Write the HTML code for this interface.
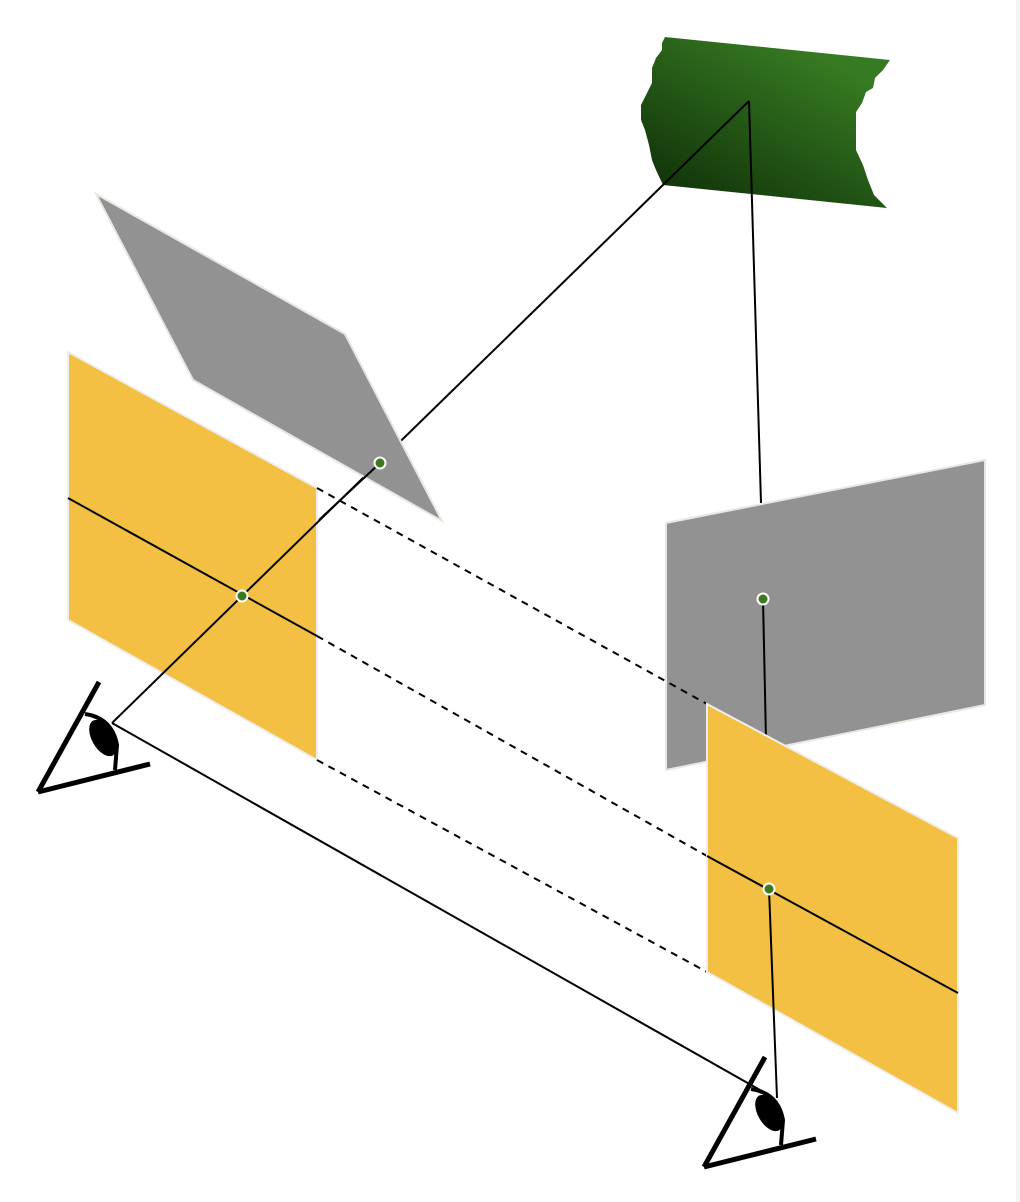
<!DOCTYPE html>
<html><head><style>body{margin:0;background:#fff}svg{display:block}</style></head><body>
<svg width="1020" height="1202" viewBox="0 0 1020 1202" xmlns="http://www.w3.org/2000/svg">
<defs>
<linearGradient id="g" x1="0" y1="1" x2="0.7" y2="0.1">
<stop offset="0" stop-color="#0c2a06"/><stop offset="1" stop-color="#367a22"/>
</linearGradient>
<g id="eye">
<line x1="99" y1="682" x2="38" y2="792" stroke="#000" stroke-width="5"/>
<line x1="38" y1="792" x2="150" y2="764" stroke="#000" stroke-width="5"/>
<ellipse cx="103" cy="738" rx="11" ry="20" transform="rotate(-30 103 738)" fill="#000"/>
<path d="M85,714 Q112,718 117,745 L115,770" fill="none" stroke="#000" stroke-width="4"/>
</g>
</defs>
<rect x="1016" y="0" width="4" height="1202" fill="#f4f4f4"/>
<polygon points="665,37 890,60 883,70 875,78 873,88 866,92 862,103 856,112 856,150 863,165 868,180 874,195 887,208 663,185 656,170 652,160 649,145 645,130 641,120 641,105 646,95 652,83 652,68 656,58 662,50 662,43" fill="url(#g)"/>
<polygon points="68,352 317,488 317,760 68,620" fill="#f3c043" stroke="#eee" stroke-width="2"/>
<line x1="112" y1="723" x2="749" y2="101" stroke="#000" stroke-width="2"/>
<line x1="749" y1="101" x2="761" y2="503" stroke="#000" stroke-width="2"/>
<polygon points="96,194 345,334 442,521 193,380" fill="#929292" stroke="#e8e8e0" stroke-width="2"/>
<polygon points="666,523 985,460 985,705 666,770" fill="#929292" stroke="#e8e8e0" stroke-width="2"/>
<line x1="319" y1="520" x2="380" y2="463" stroke="#000" stroke-width="2"/>
<line x1="763" y1="599" x2="766" y2="740" stroke="#000" stroke-width="2"/>
<line x1="68" y1="498" x2="317" y2="636" stroke="#000" stroke-width="2"/>
<g stroke="#000" stroke-width="2" stroke-dasharray="7,6">
<line x1="317" y1="488" x2="707" y2="704"/>
<line x1="317" y1="636" x2="707" y2="856"/>
<line x1="317" y1="760" x2="707" y2="972"/>
</g>
<polygon points="707,704 958,838 958,1113 707,972" fill="#f3c043" stroke="#eee" stroke-width="2"/>
<line x1="707" y1="856" x2="958" y2="993" stroke="#000" stroke-width="2"/>
<line x1="769" y1="889" x2="777" y2="1098" stroke="#000" stroke-width="2"/>
<line x1="112" y1="723" x2="760" y2="1090" stroke="#000" stroke-width="2"/>
<use href="#eye"/>
<use href="#eye" transform="translate(666,375)"/>
<g fill="#3a7a1e" stroke="#fff" stroke-width="2">
<circle cx="380" cy="463" r="5.5"/>
<circle cx="242" cy="596" r="5.5"/>
<circle cx="763" cy="599" r="5.5"/>
<circle cx="769" cy="889" r="5.5"/>
</g>
</svg>
</body></html>
